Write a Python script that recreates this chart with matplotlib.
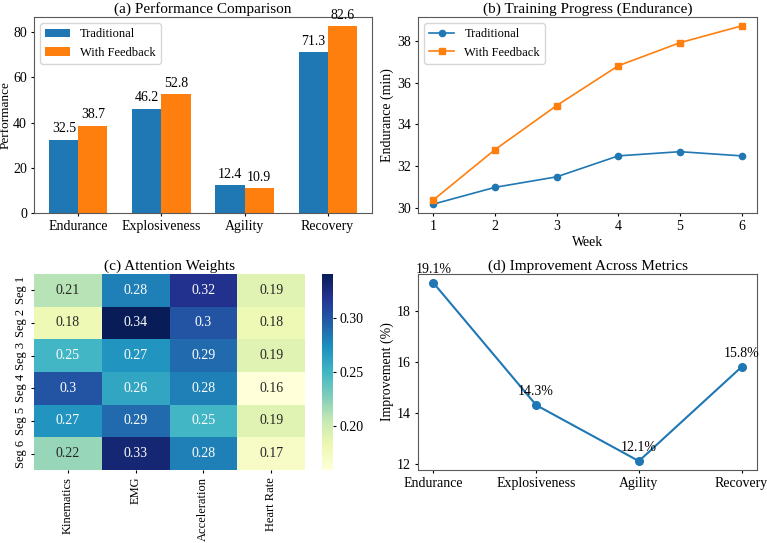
import numpy as np
import matplotlib
matplotlib.use('Agg')
import matplotlib.pyplot as plt
import seaborn as sns

plt.rcParams['font.family'] = ['Liberation Serif', 'DejaVu Serif']
plt.rcParams['font.size'] = 10
plt.rcParams['xtick.major.size'] = 2.5
plt.rcParams['ytick.major.size'] = 2.5
plt.rcParams['xtick.major.pad'] = 2.5
plt.rcParams['ytick.major.pad'] = 2.5
plt.rcParams['axes.labelpad'] = 2.5
plt.rcParams['axes.titlepad'] = 3
plt.rcParams['axes.edgecolor'] = '0.35'

metrics = ['Endurance', 'Explosiveness', 'Agility', 'Recovery']
traditional = [32.5, 46.2, 12.4, 71.3]
feedback = [38.7, 52.8, 10.9, 82.6]

weeks = [1, 2, 3, 4, 5, 6]
trad_week = [30.2, 31.0, 31.5, 32.5, 32.7, 32.5]
fb_week = [30.4, 32.8, 34.9, 36.8, 37.9, 38.7]

segments = ['Seg 1', 'Seg 2', 'Seg 3', 'Seg 4', 'Seg 5', 'Seg 6']
modalities = ['Kinematics', 'EMG', 'Acceleration', 'Heart Rate']
attention = np.array([
    [0.21, 0.28, 0.32, 0.19],
    [0.18, 0.34, 0.30, 0.18],
    [0.25, 0.27, 0.29, 0.19],
    [0.30, 0.26, 0.28, 0.16],
    [0.27, 0.29, 0.25, 0.19],
    [0.22, 0.33, 0.28, 0.17],
])

improvement = [19.1, 14.3, 12.1, 15.8]

W, H = 767, 543
fig = plt.figure(figsize=(W / 100, H / 100), dpi=100)


def box(l, t, r, b):
    return [l / W, 1 - b / H, (r - l) / W, (b - t) / H]


ax_a = fig.add_axes(box(34, 17, 372, 213))
ax_b = fig.add_axes(box(418, 17, 757, 213))
ax_c = fig.add_axes(box(34, 274, 305, 470))
ax_cb = fig.add_axes(box(322, 274, 333, 470))
ax_d = fig.add_axes(box(418, 274, 757, 470))

# (a) bars
ax = ax_a
x = np.arange(len(metrics))
w = 0.35
b1 = ax.bar(x - w / 2, traditional, w, label='Traditional', color='#1f77b4')
b2 = ax.bar(x + w / 2, feedback, w, label='With Feedback', color='#ff7f0e')
for bars in (b1, b2):
    for b in bars:
        ax.annotate(f'{b.get_height()}', (b.get_x() + b.get_width() / 2, b.get_height()),
                    xytext=(0, 3), textcoords='offset points', ha='center', va='bottom')
ax.set_xticks(x)
ax.set_xticklabels(metrics)
ax.set_ylabel('Performance', fontsize=9.5, labelpad=1)
ax.set_title('(a) Performance Comparison', fontsize=11)
ax.legend(loc='upper left', fontsize=9)

# (b) lines
ax = ax_b
ax.plot(weeks, trad_week, '-o', markersize=4.5, linewidth=1.2, label='Traditional')
ax.plot(weeks, fb_week, '-s', markersize=4.5, linewidth=1.2, label='With Feedback')
ax.set_xlabel('Week')
ax.set_ylabel('Endurance (min)')
ax.set_title('(b) Training Progress (Endurance)', fontsize=11)
ax.legend(loc='upper left', fontsize=9)

# (c) heatmap
ax = ax_c
sns.heatmap(attention, annot=True, fmt='.2g', cmap='YlGnBu', ax=ax, cbar_ax=ax_cb,
            xticklabels=modalities, yticklabels=segments)
ax.set_yticklabels(segments, rotation=90, va='center', fontsize=9)
ax.set_xticklabels(modalities, rotation=90, fontsize=9)
ax_cb.tick_params(labelsize=10)
ax.set_title('(c) Attention Weights', fontsize=11)

# (d) improvement
ax = ax_d
ax.plot(metrics, improvement, '-o', markersize=5.5, linewidth=1.5)
for i, v in enumerate(improvement):
    ax.annotate(f'{v}%', (i, v), xytext=(0, 5), textcoords='offset points',
                ha='center', va='bottom')
ax.set_ylabel('Improvement (%)')
ax.set_title('(d) Improvement Across Metrics', fontsize=11)

fig.savefig('out.png', dpi=100)
